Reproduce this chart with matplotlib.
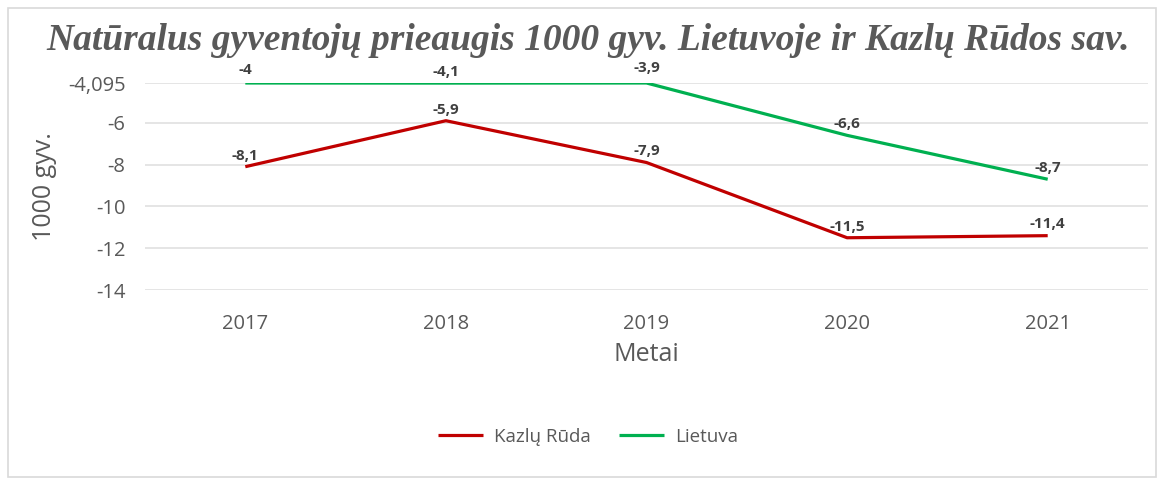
import numpy as np
import matplotlib.pyplot as plt
from matplotlib.patches import Rectangle

# data
years = ["2017", "2018", "2019", "2020", "2021"]
kazlu_ruda = [-8.1, -5.9, -7.9, -11.5, -11.4]
lietuva = [-4.0, -4.1, -3.9, -6.6, -8.7]
y_ticks = [-4.095, -6, -8, -10, -12, -14]
y_tick_labels = ["-4,095", "-6", "-8", "-10", "-12", "-14"]

red = "#C00000"
green = "#00B050"
gray = "#595959"

plt.rcParams["font.family"] = ["Open Sans", "DejaVu Sans"]

fig = plt.figure(figsize=(11.57, 4.79), dpi=100)
fig.patches.append(Rectangle((8 / 1157, 2 / 479), 1148 / 1157, 469 / 479,
                             transform=fig.transFigure, fill=False,
                             edgecolor="#D9D9D9", linewidth=1.2))

ax = fig.add_axes([145 / 1157, 1 - 290 / 479, 1003 / 1157, 207 / 479])
x = np.arange(len(years))
ymax, ymin = y_ticks[0], y_ticks[-1]

# Excel keeps points beyond the axis pinned to the edge
ax.plot(x, np.minimum(kazlu_ruda, ymax), color=red, lw=2.3, label="Kazlų Rūda",
        solid_capstyle="butt", zorder=3)
ax.plot(x, np.minimum(lietuva, ymax), color=green, lw=2.3, label="Lietuva",
        solid_capstyle="butt", zorder=3)

for series in (kazlu_ruda, lietuva):
    for xi, v in zip(x, series):
        ax.annotate(f"{v:g}".replace(".", ","), (xi, v), xytext=(0, 3),
                    textcoords="offset points", ha="center", va="bottom",
                    fontsize=11, fontweight="bold", color="#404040",
                    annotation_clip=False, zorder=4)

ax.set_xlim(-0.5, len(years) - 0.5)
ax.set_ylim(ymin, ymax)
ax.set_xticks(x)
ax.set_xticklabels(years)
ax.set_yticks(y_ticks)
ax.set_yticklabels(y_tick_labels)
ax.tick_params(axis="both", length=0, labelsize=14.5, colors=gray)
ax.tick_params(axis="y", pad=14)
ax.tick_params(axis="x", pad=17)
ax.grid(axis="y", color="#E3E3E3", lw=1.3)
for s in ax.spines.values():
    s.set_visible(False)

ax.set_xlabel("Metai", fontsize=18, color=gray, labelpad=6)
ax.set_ylabel("1000 gyv.", fontsize=18, color=gray, labelpad=8)

fig.text(0.508, 1 - 40 / 479, "Natūralus gyventojų prieaugis 1000 gyv. Lietuvoje ir Kazlų Rūdos sav.",
         ha="center", va="center", fontsize=27, fontweight="bold", fontstyle="italic",
         family="Liberation Serif", color=gray)

fig.legend(loc="center", bbox_to_anchor=(0.508, 1 - 437 / 479), ncol=2, frameon=False,
           fontsize=13.5, labelcolor=gray, handlelength=2.4, columnspacing=1.5,
           handletextpad=0.6)

fig.savefig("out.png", dpi=100)
